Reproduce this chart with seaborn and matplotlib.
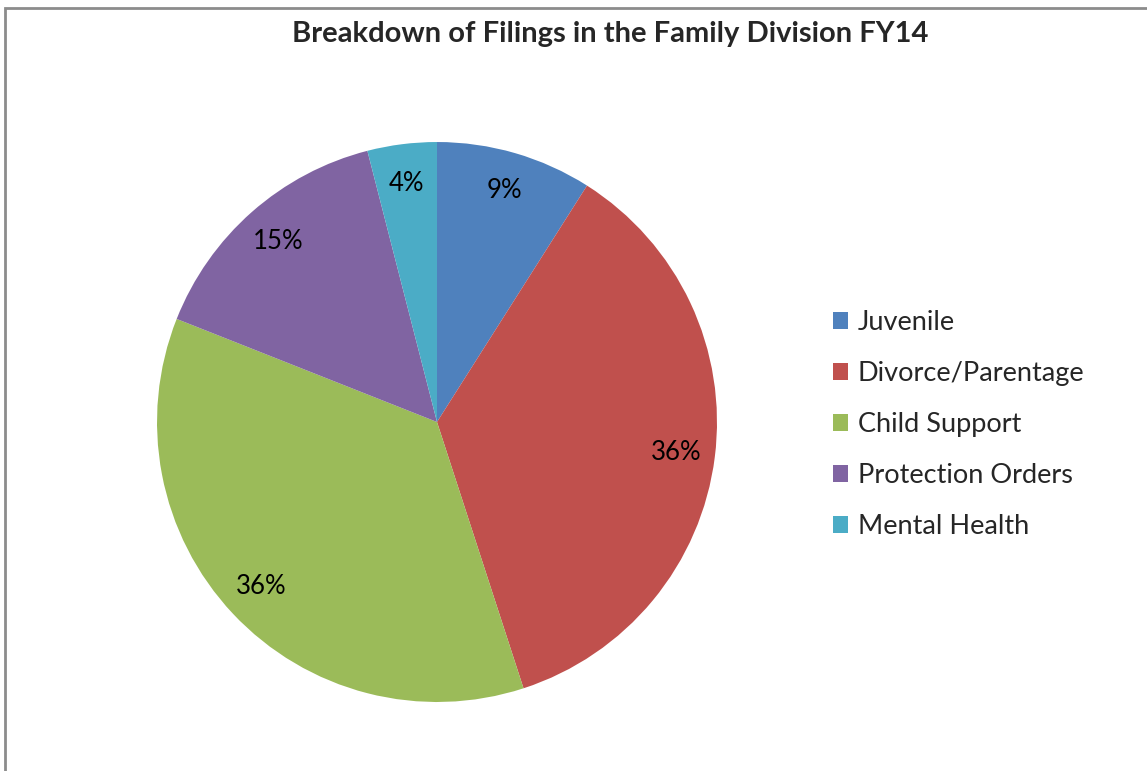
import matplotlib.pyplot as plt
import seaborn as sns
from matplotlib.patches import Rectangle, Patch

# Data
categories = ["Juvenile", "Divorce/Parentage", "Child Support",
              "Protection Orders", "Mental Health"]
shares = [9, 36, 36, 15, 4]
colors = ["#4F81BD", "#C0504D", "#9BBB59", "#8064A2", "#4BACC6"]

sns.set_style("white")
plt.rcParams['font.family'] = ['Lato', 'DejaVu Sans']

fig = plt.figure(figsize=(11.47, 7.71), dpi=100)

# chart-area border (only top and left are visible in the original)
fig.patches.append(Rectangle((5 / 1147, -0.1), 1.2, 1.1 - 8 / 771,
                             transform=fig.transFigure, fill=False,
                             edgecolor="#8C8C8C", linewidth=2))

ax = fig.add_axes([0.1369, 0.0895, 0.4882, 0.7263])
palette = sns.color_palette(colors)
ax.pie(shares, colors=palette, startangle=90, counterclock=False,
       autopct="%1.0f%%", pctdistance=0.86,
       textprops={"fontsize": 18.5, "color": "black"},
       wedgeprops={"linewidth": 0})
ax.set_xlim(-1, 1)
ax.set_ylim(-1, 1)
ax.set_aspect("equal")

fig.text(0.532, 0.956, "Breakdown of Filings in the Family Division FY14",
         ha="center", va="center", fontsize=21, fontweight="bold")

handles = [Patch(facecolor=c, edgecolor="none") for c in palette]
fig.legend(handles, categories, loc="center left",
           bbox_to_anchor=(0.726, 0.4495), frameon=False, fontsize=19.5,
           handlelength=0.55, handleheight=0.55, handletextpad=0.37,
           labelspacing=0.96, borderpad=0, borderaxespad=0)

fig.savefig("out.png", dpi=100)
